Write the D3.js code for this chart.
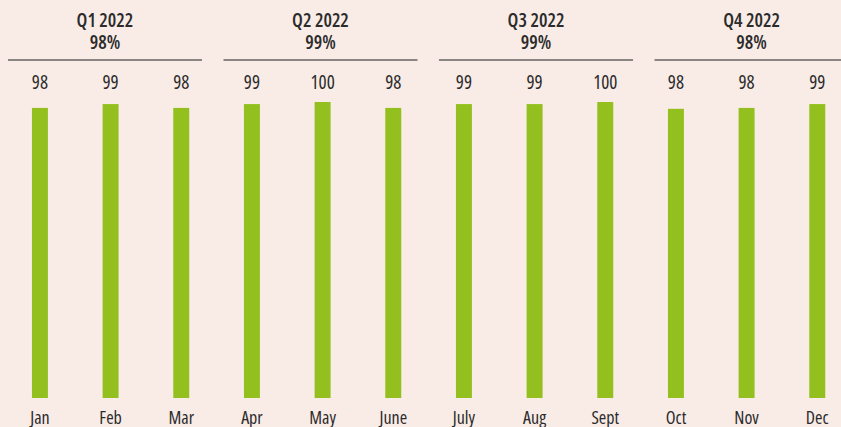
<!DOCTYPE html>
<html><head><meta charset="utf-8">
<script src="https://cdn.jsdelivr.net/npm/d3@7"></script>
<style>
html,body{margin:0;padding:0;background:#f9ece7;}
svg{display:block;}
text{font-family:"Open Sans",sans-serif;font-stretch:condensed;fill:#2b2b2b;}
</style></head>
<body><svg id="c" width="841" height="427"></svg>
<script>
const months = ["Jan","Feb","Mar","Apr","May","June","July","Aug","Sept","Oct","Nov","Dec"];
const values = [98.0,99.3,98.0,99.3,100,98.0,99.3,99.3,100,97.7,98.0,99.3];
const labels = ["98","99","98","99","100","98","99","99","100","98","98","99"];
const quarters = ["Q1 2022","Q2 2022","Q3 2022","Q4 2022"];
const quarterValues = ["98%","99%","99%","98%"];

const svg = d3.select("#c");

const x = d3.scaleBand().domain(months).range([4.6, 852.6]).paddingInner(0.774).paddingOuter(0.387);
const y = d3.scaleLinear().domain([0,100]).range([398,102]);
const xq = d3.scaleBand().domain(quarters).range([8, 848.5]).paddingInner(0.1).paddingOuter(0);

// bars
svg.append("g").selectAll("rect").data(months).join("rect")
  .attr("x", d => x(d))
  .attr("width", x.bandwidth())
  .attr("y", (d,i) => y(values[i]))
  .attr("height", (d,i) => y(0) - y(values[i]))
  .attr("fill", "#93c01f");

// value labels
svg.append("g").selectAll("text").data(months).join("text")
  .attr("x", d => x(d) + x.bandwidth()/2)
  .attr("y", 89)
  .attr("text-anchor","middle")
  .style("font-size","19px").style("font-weight","500")
  .text((d,i) => labels[i]);

// month labels (axis)
const axis = d3.axisBottom(x).tickSize(0).tickPadding(0);
const ag = svg.append("g").attr("transform","translate(0,412)").call(axis);
ag.select(".domain").remove();
ag.attr("font-family", null).attr("font-size", null);
ag.selectAll("text").attr("dy", null).attr("y", 11.5)
  .attr("fill", null)
  .style("font-size","18px").style("font-weight","500");

// quarter lines
svg.append("g").selectAll("line").data(quarters).join("line")
  .attr("x1", d => xq(d)).attr("x2", d => xq(d) + xq.bandwidth())
  .attr("y1", 60).attr("y2", 60)
  .attr("stroke", "#8a8581").attr("stroke-width", 2.2);

// quarter titles
const cx = d => xq(d) + xq.bandwidth()/2;
svg.append("g").selectAll("text").data(quarters).join("text")
  .attr("x", cx).attr("y", 27)
  .attr("text-anchor","middle")
  .style("font-size","19px").style("font-weight","600")
  .text(d => d);
svg.append("g").selectAll("text").data(quarters).join("text")
  .attr("x", cx).attr("y", 49)
  .attr("text-anchor","middle")
  .style("font-size","19px").style("font-weight","600")
  .text((d,i) => quarterValues[i]);
</script></body></html>
